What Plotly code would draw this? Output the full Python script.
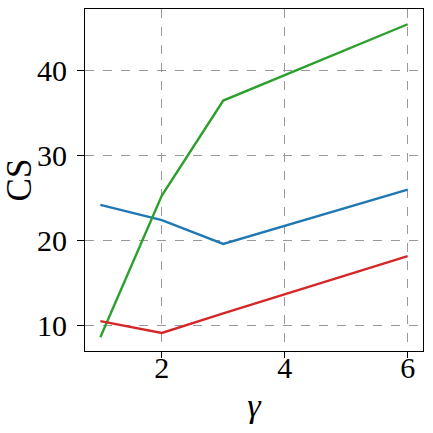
import plotly.graph_objects as go

# valores de gamma y CS por serie
gamma = [1, 2, 3, 6]
cs_azul = [24.2, 22.4, 19.6, 26.0]
cs_verde = [8.6, 25.3, 36.5, 45.5]
cs_rojo = [10.5, 9.1, 11.4, 18.15]

series = [
    (cs_azul, '#1f77b4'),
    (cs_verde, '#2ca02c'),
    (cs_rojo, '#d62728'),
]

fuente = "Liberation Serif"

fig = go.Figure()
for valores, color in series:
    fig.add_trace(go.Scatter(x=gamma, y=valores, mode='lines',
                             line=dict(color=color, width=2.4)))

fig.update_layout(
    width=433, height=433,
    margin=dict(l=85, r=10, t=9, b=82),
    plot_bgcolor='white', paper_bgcolor='white',
    font=dict(family=fuente, size=30, color='black'),
    showlegend=False,
)
# estilo comun de ambos ejes (marco negro, rejilla discontinua)
fig.update_xaxes(
    showline=True, linecolor='black', linewidth=1.2, mirror=True,
    ticks='outside', ticklen=6, tickwidth=1.2, tickcolor='black',
    showgrid=True, gridcolor='#999999', griddash='dash', gridwidth=1,
    zeroline=False, automargin=False,
    tickfont=dict(family=fuente, size=30, color='black'),
)
fig.update_yaxes(
    showline=True, linecolor='black', linewidth=1.2, mirror=True,
    ticks='outside', ticklen=7, tickwidth=1.2, tickcolor='black',
    showgrid=True, gridcolor='#999999', griddash='dash', gridwidth=1,
    zeroline=False, automargin=False,
    tickfont=dict(family=fuente, size=30, color='black'),
)
fig.update_xaxes(range=[0.75, 6.25], tickvals=[2, 4, 6],
                 ticklabelposition='inside', ticklabelstandoff=-30,
                 title=dict(text='<i>γ</i>', standoff=10, font=dict(family=fuente, size=34)))
fig.update_yaxes(range=[6.97, 47.3], tickvals=[10, 20, 30, 40], ticklabelstandoff=4,
                 title=dict(text='CS', standoff=6, font=dict(family=fuente, size=35)))

# quitar el margen del body para que la figura quede en la esquina
fig.write_html('out.html', config={'displayModeBar': False},
               post_script="document.body.style.margin='0';")
